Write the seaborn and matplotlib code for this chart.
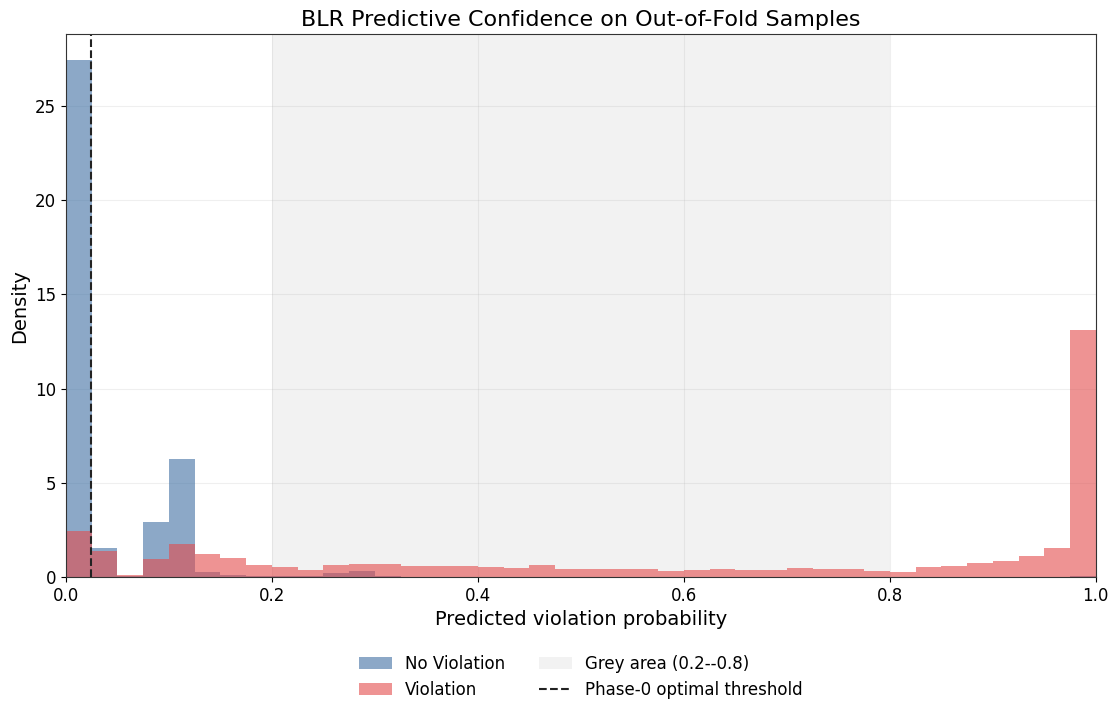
import numpy as np
import pandas as pd
import matplotlib
matplotlib.use('Agg')
import matplotlib.pyplot as plt
import seaborn as sns
from matplotlib.patches import Patch
from matplotlib.lines import Line2D

# Histogram densities, 40 bins of width 0.025 over [0, 1]
bin_width = 0.025
no_violation_density = [
    27.44, 1.52, 0.05, 2.92, 6.28, 0.28, 0.12, 0.08, 0.05, 0.05,
    0.22, 0.32, 0.05, 0.03, 0.03, 0.02, 0.02, 0.02, 0.02, 0.02,
    0.02, 0.02, 0.02, 0.02, 0.02, 0.02, 0.02, 0.02, 0.02, 0.02,
    0.02, 0.02, 0.02, 0.02, 0.02, 0.02, 0.02, 0.02, 0.02, 0.05,
]
violation_density = [
    2.44, 1.38, 0.10, 0.96, 1.75, 1.24, 0.99, 0.64, 0.55, 0.39,
    0.62, 0.69, 0.69, 0.58, 0.58, 0.57, 0.55, 0.50, 0.64, 0.44,
    0.41, 0.44, 0.44, 0.34, 0.39, 0.41, 0.39, 0.39, 0.50, 0.44,
    0.41, 0.35, 0.28, 0.53, 0.60, 0.74, 0.87, 1.13, 1.52, 13.10,
]
threshold = 0.024
grey_lo, grey_hi = 0.2, 0.8

centers = (np.arange(40) + 0.5) * bin_width
df = pd.DataFrame({
    'p': np.concatenate([centers, centers]),
    'density': no_violation_density + violation_density,
    'label': ['No Violation'] * 40 + ['Violation'] * 40,
})

blue = '#3f6fa3'
red = '#e34c4c'

fig, ax = plt.subplots(figsize=(11.17, 7.09), dpi=100)
ax.axvspan(grey_lo, grey_hi, color='grey', alpha=0.1, lw=0, zorder=0)

for lab, col in [('No Violation', blue), ('Violation', red)]:
    sns.histplot(data=df[df.label == lab], x='p', weights='density',
                 binwidth=bin_width, binrange=(0, 1), color=col, alpha=0.6,
                 linewidth=0, ax=ax)

ax.axvline(threshold, color='#222222', linestyle='--', linewidth=1.5)

ax.set_xlim(0, 1)
ax.grid(True, alpha=0.2)
ax.set_axisbelow(True)
ax.set_title('BLR Predictive Confidence on Out-of-Fold Samples', fontsize=16)
ax.set_xlabel('Predicted violation probability', fontsize=14)
ax.set_ylabel('Density', fontsize=14)
ax.tick_params(labelsize=12)
for s in ax.spines.values():
    s.set_color('#333333')

handles = [
    Patch(facecolor=blue, alpha=0.6, label='No Violation'),
    Patch(facecolor=red, alpha=0.6, label='Violation'),
    Patch(facecolor='grey', alpha=0.1, label='Grey area (0.2--0.8)'),
    Line2D([0], [0], color='#222222', linestyle='--', label='Phase-0 optimal threshold'),
]
ax.legend(handles=handles, loc='upper center', bbox_to_anchor=(0.5, -0.115),
          ncol=2, frameon=False, fontsize=12)

fig.subplots_adjust(left=0.059, right=0.981, top=0.952, bottom=0.186)
fig.savefig('out.png', dpi=100)
